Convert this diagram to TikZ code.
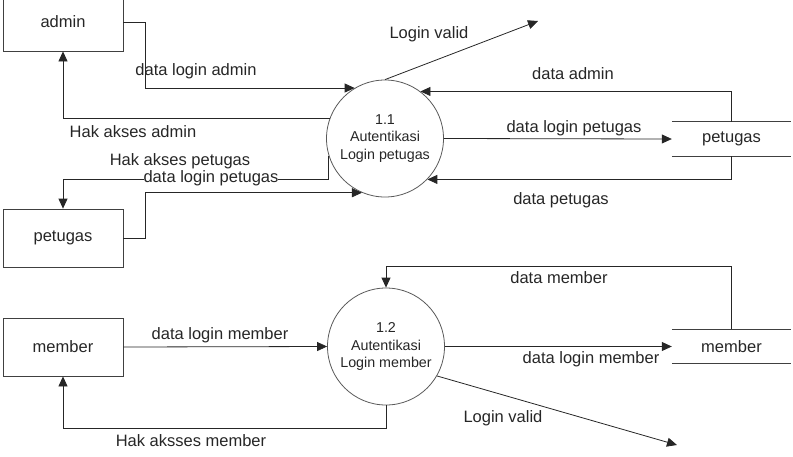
\documentclass[tikz,border=0pt]{standalone}
\usepackage{fontspec}
\setmainfont{Liberation Sans}
\usetikzlibrary{arrows.meta,positioning,calc}

\begin{document}
\begin{tikzpicture}[
    x=1pt, y=-1pt,
    every node/.style={font=\fontsize{16.5}{19}\selectfont, text=black!85},
    entity/.style={rectangle, draw=black!75, line width=0.8pt, minimum width=120pt, minimum height=58pt, inner sep=0pt},
    process/.style={circle, draw=black!65, line width=0.8pt, minimum size=117pt, inner sep=0pt, align=center, font=\fontsize{14.3}{17.5}\selectfont},
    store/.style={rectangle, minimum width=119pt, minimum height=34pt, inner sep=0pt},
    storeline/.style={draw=black!75, line width=0.8pt},
    flow/.style={draw=black!85, line width=0.8pt, -{Triangle[length=10pt,width=9pt]}},
    lbl/.style={anchor=base, inner sep=0pt}
  ]
  \useasboundingbox (0,0) rectangle (793,456);

  \node[entity] (admin) at (63,22) {admin};
  \node[entity] (petugas) at (63,238) {petugas};
  \node[entity] (member) at (63,347) {member};

  \node[process] (p11) at (385,138.5) {1.1\\Autentikasi\\Login petugas};
  \node[process] (p12) at (386,346.5) {1.2\\Autentikasi\\Login member};

  \node[store] (dsPetugas) at (731.5,139) {petugas};
  \node[store] (dsMember) at (731.5,346.5) {member};
  \draw[storeline] (dsPetugas.north west) -- (dsPetugas.north east) (dsPetugas.south west) -- (dsPetugas.south east);
  \draw[storeline] (dsMember.north west) -- (dsMember.north east) (dsMember.south west) -- (dsMember.south east);

  \coordinate (lvOut1) at (538,21);
  \coordinate (lvOut2) at (677,445);

  \draw[flow] (admin.east) -- ++(22,0) |- (p11.121);
  \draw[flow] (p11.160) -| (admin.south);
  \draw[flow] (p11.197) -- ++(0,24) -| (petugas.north);
  \draw[flow] (petugas.east) -- ++(22,0) |- (p11.247);
  \draw[flow] (p11.north) -- (lvOut1);
  \draw[flow] (dsPetugas.north) |- (p11.53);
  \draw[flow] (p11.east) -- (dsPetugas.west);
  \draw[flow] (dsPetugas.south) |- (p11.316);

  \draw[flow] (dsMember.north) -- ++(0,-63) -| (p12.north);
  \draw[flow] (member.east) -- (p12.west);
  \draw[flow] (p12.east) -- (dsMember.west);
  \draw[flow] (p12.-30) -- (lvOut2);
  \draw[flow] (p12.south) -- ++(0,23) -| (member.south);

  \node[lbl] (tLoginAdmin) at (196,75) {data login admin};
  \node[lbl] (tHakAdmin) at (133,137) {Hak akses admin};
  \node[lbl] (tHakPetugas) at (180,165) {Hak akses petugas};
  \node[lbl, fill=white, inner ysep=1pt] (tLoginPetugasL) at (211,182) {data login petugas};
  \node[lbl] (tValid1) at (429,38) {Login valid};
  \node[lbl] (tDataAdmin) at (573,79) {data admin};
  \node[lbl] (tLoginPetugasR) at (574,132) {data login petugas};
  \node[lbl] (tDataPetugas) at (561,204) {data petugas};

  \node[lbl] (tDataMember) at (559,283) {data member};
  \node[lbl] (tLoginMemberL) at (220,339) {data login member};
  \node[lbl] (tLoginMemberR) at (591,363) {data login member};
  \node[lbl] (tValid2) at (503,422) {Login valid};
  \node[lbl] (tHakMember) at (191,446) {Hak aksses member};
\end{tikzpicture}
\end{document}
